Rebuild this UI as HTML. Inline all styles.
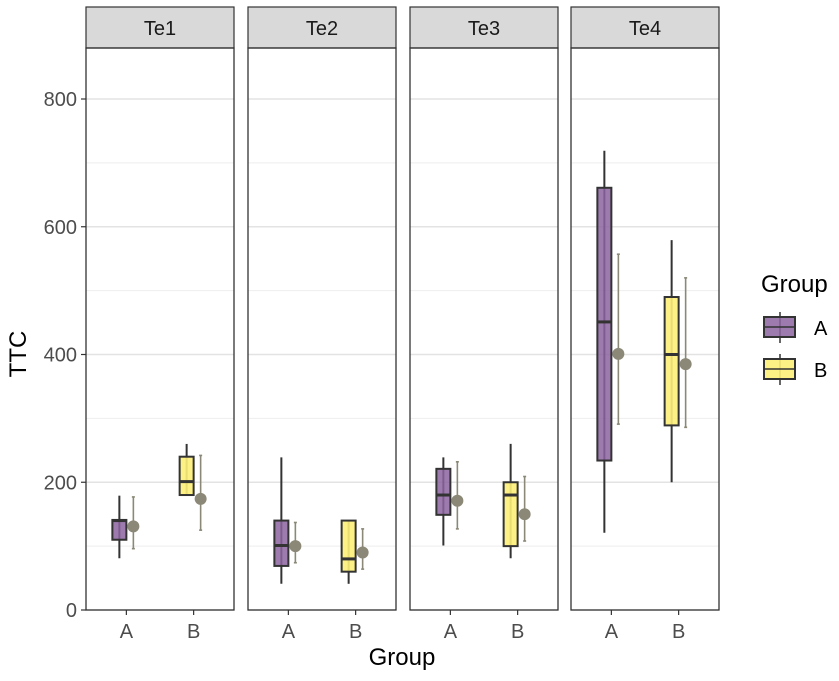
<!DOCTYPE html>
<html><head><meta charset="utf-8"><style>
body{margin:0;background:#fff}
svg{display:block;font-family:"Liberation Sans",Arial,sans-serif}
</style></head><body>
<svg id="chart" width="839" height="681" viewBox="0 0 839 681"></svg>
<script>
const panels = ["Te1","Te2","Te3","Te4"];
const groups = ["A","B"];
const yTicks = [0,200,400,600,800];
const yMinor = [100,300,500,700];
// [panel][group] = [whiskerLow, q1, median, q3, whiskerHigh]
const boxStats = [
  [[81,110,140,141,179],[180,180,201,240,260]],
  [[41,69,101,140,239],[41,60,80,140,140]],
  [[101,149,180,221,239],[81,100,180,200,260]],
  [[121,234,451,661,719],[200,289,400,490,579]]
];
// [panel][group] = [mean, low, high]
const meanStats = [
  [[131,96,177],[174,125,242]],
  [[100,74,137],[90,64,127]],
  [[171,127,232],[150,108,209]],
  [[401,291,557],[385,286,520]]
];
const fills = ["rgba(140,100,160,0.85)","rgba(253,238,120,0.9)"];

const NS="http://www.w3.org/2000/svg";
const svg=document.getElementById('chart');
function mk(tag,attrs,parent){const e=document.createElementNS(NS,tag);for(const k in attrs)e.setAttribute(k,attrs[k]);(parent||svg).appendChild(e);return e;}
const panelLeft=[86,248,410,571], panelW=148, plotTop=48, plotBot=610, stripTop=7;
function y(v){return 610-(v/800)*(610-99);}
function xc(p,g){return panelLeft[p]+(0.6+g)/2.2*panelW;}

panels.forEach((name,p)=>{
  const x0=panelLeft[p];
  const strip=mk('rect',{x:x0,y:stripTop,width:panelW,height:plotTop-stripTop,fill:'#d9d9d9',stroke:'#333','stroke-width':1.2});
  
  
  const st=mk('text',{x:x0+panelW/2,y:35,'text-anchor':'middle','font-size':20,fill:'#1a1a1a'});
  st.textContent=name;
  
  
  yMinor.forEach(v=>mk('line',{x1:x0,x2:x0+panelW,y1:y(v),y2:y(v),stroke:'#eeeeee','stroke-width':1}));
  yTicks.forEach(v=>mk('line',{x1:x0,x2:x0+panelW,y1:y(v),y2:y(v),stroke:'#e3e3e3','stroke-width':1.4}));
  groups.forEach((g,gi)=>{
    const c=xc(p,gi), s=boxStats[p][gi], m=meanStats[p][gi];
    const bx=c-14, bw=14, wx=c-7;
    const grp=mk('g',{});
    
    
    mk('line',{x1:wx,x2:wx,y1:y(s[0]),y2:y(s[4]),stroke:'#333','stroke-width':2},grp);
    mk('rect',{x:bx,y:y(s[3]),width:bw,height:y(s[1])-y(s[3]),fill:fills[gi],stroke:'#333','stroke-width':2},grp);
    mk('line',{x1:bx,x2:bx+bw,y1:y(s[2]),y2:y(s[2]),stroke:'#333','stroke-width':3},grp);
    const mx=c+7;
    const eg=mk('g',{});
    
    
    mk('line',{x1:mx,x2:mx,y1:y(m[1]),y2:y(m[2]),stroke:'#8b8877','stroke-width':1.6},eg);
    mk('line',{x1:mx-1.5,x2:mx+1.5,y1:y(m[1]),y2:y(m[1]),stroke:'#8b8877','stroke-width':1.6},eg);
    mk('line',{x1:mx-1.5,x2:mx+1.5,y1:y(m[2]),y2:y(m[2]),stroke:'#8b8877','stroke-width':1.6},eg);
    mk('circle',{cx:mx,cy:y(m[0]),r:6,fill:'#8b8877'},eg);
    mk('line',{x1:c,x2:c,y1:plotBot,y2:plotBot+5,stroke:'#333','stroke-width':1.2});
    const t=mk('text',{x:c,y:638,'text-anchor':'middle','font-size':20,fill:'#4d4d4d'});
    t.textContent=g;
    
    
  });
  const fr=mk('rect',{x:x0,y:plotTop,width:panelW,height:plotBot-plotTop,fill:'none',stroke:'#333','stroke-width':1.3});
  
  
});
yTicks.forEach(v=>{
  mk('line',{x1:81,x2:86,y1:y(v),y2:y(v),stroke:'#333','stroke-width':1.2});
  const t=mk('text',{x:77,y:y(v)+7,'text-anchor':'end','font-size':20,fill:'#4d4d4d'});
  t.textContent=v;
  
  
});
const yt=mk('text',{x:0,y:0,transform:'translate(26,354) rotate(-90)','text-anchor':'middle','font-size':24,fill:'#000'});
yt.textContent='TTC';


const xt=mk('text',{x:402,y:665,'text-anchor':'middle','font-size':24,fill:'#000'});
xt.textContent='Group';


const lt=mk('text',{x:761,y:292,'font-size':24,fill:'#000'});
lt.textContent='Group';


groups.forEach((g,gi)=>{
  const ty=317+gi*42;
  const lg=mk('g',{});
  
  
  mk('line',{x1:780,x2:780,y1:ty-5,y2:ty+26,stroke:'#333','stroke-width':1.5},lg);
  mk('rect',{x:764,y:ty,width:31,height:20,fill:fills[gi],stroke:'#333','stroke-width':2},lg);
  mk('line',{x1:764,x2:795,y1:ty+10,y2:ty+10,stroke:'#333','stroke-width':1.5},lg);
  const t=mk('text',{x:814,y:ty+18,'font-size':20,fill:'#000'},lg);
  t.textContent=g;
});
</script>
</body></html>
